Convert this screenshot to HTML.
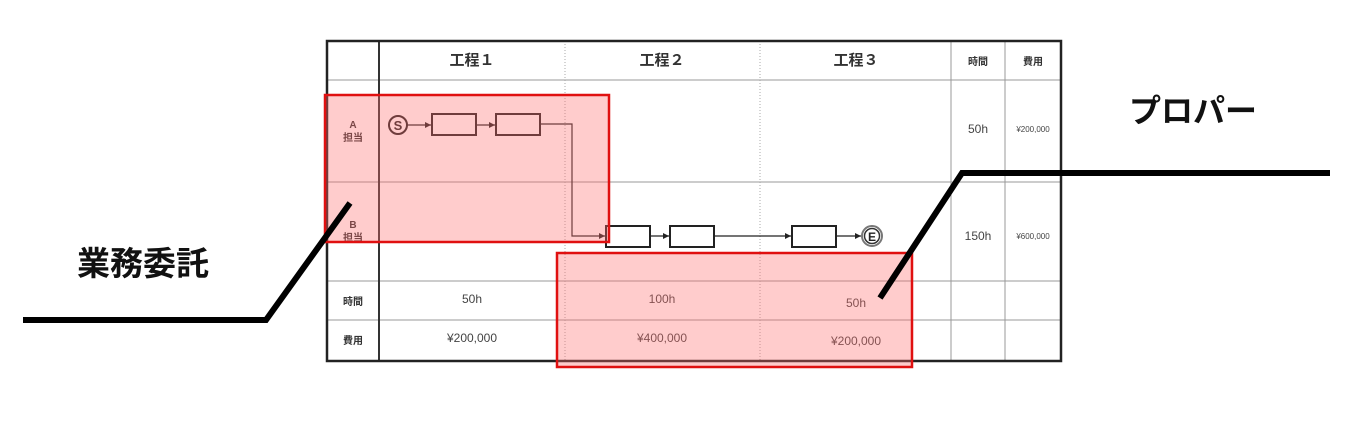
<!DOCTYPE html>
<html><head><meta charset="utf-8"><style>
html,body{margin:0;padding:0;background:#fff;}
svg{display:block;}
text{font-family:"Liberation Sans","Noto Sans CJK JP",sans-serif;}
</style></head><body>
<svg width="1352" height="426" viewBox="0 0 1352 426" xmlns="http://www.w3.org/2000/svg">
<defs><marker id="a" markerWidth="6" markerHeight="6" refX="5" refY="3" orient="auto"><path d="M0,0.5 L5,3 L0,5.5z" fill="#222"/></marker></defs>
<g stroke="#999" stroke-width="1">
<line x1="327" y1="80" x2="1061" y2="80"/>
<line x1="327" y1="182" x2="1061" y2="182"/>
<line x1="327" y1="281" x2="1061" y2="281"/>
<line x1="327" y1="320" x2="1061" y2="320"/>
<line x1="951" y1="41" x2="951" y2="361"/>
<line x1="1005" y1="41" x2="1005" y2="361"/>
</g>
<g stroke="#aaa" stroke-width="1" stroke-dasharray="1,2">
<line x1="565" y1="41" x2="565" y2="361"/>
<line x1="760" y1="41" x2="760" y2="361"/>
</g>
<line x1="379" y1="41" x2="379" y2="361" stroke="#333" stroke-width="2"/>
<rect x="327" y="41" width="734" height="320" fill="none" stroke="#222" stroke-width="2.5"/>
<g font-weight="bold" font-size="15" fill="#333" text-anchor="middle">
<text x="472" y="65">工程１</text>
<text x="662" y="65">工程２</text>
<text x="856" y="65">工程３</text>
<text x="978" y="65" font-size="10">時間</text>
<text x="1033" y="65" font-size="10">費用</text>
<text x="353" y="128" font-size="10">A</text>
<text x="353" y="141" font-size="10">担当</text>
<text x="353" y="228" font-size="10">B</text>
<text x="353" y="241" font-size="10">担当</text>
<text x="353" y="305" font-size="10">時間</text>
<text x="353" y="344" font-size="10">費用</text>
</g>
<g font-size="12" fill="#444" text-anchor="middle">
<text x="472" y="303">50h</text>
<text x="662" y="303">100h</text>
<text x="856" y="307">50h</text>
<text x="472" y="342">¥200,000</text>
<text x="662" y="342">¥400,000</text>
<text x="856" y="345">¥200,000</text>
<text x="978" y="133">50h</text>
<text x="978" y="240">150h</text>
<text x="1033" y="132" font-size="8">¥200,000</text>
<text x="1033" y="239" font-size="8">¥600,000</text>
</g>
<g stroke="#222" stroke-width="1.2" fill="none">
<line x1="407" y1="125" x2="431" y2="125" marker-end="url(#a)"/>
<line x1="476" y1="125" x2="495" y2="125" marker-end="url(#a)"/>
<polyline points="540,124 572,124 572,236 605,236" marker-end="url(#a)"/>
<line x1="650" y1="236" x2="669" y2="236" marker-end="url(#a)"/>
<line x1="714" y1="236" x2="791" y2="236" marker-end="url(#a)"/>
<line x1="836" y1="236" x2="861" y2="236" marker-end="url(#a)"/>
</g>
<g stroke="#222" stroke-width="2" fill="#fff">
<rect x="432" y="114" width="44" height="21"/>
<rect x="496" y="114" width="44" height="21"/>
<rect x="606" y="226" width="44" height="21"/>
<rect x="670" y="226" width="44" height="21"/>
<rect x="792" y="226" width="44" height="21"/>
<circle cx="398" cy="125" r="9"/>
</g>
<circle cx="872" cy="236" r="10" fill="#fff" stroke="#777" stroke-width="2"/>
<circle cx="872" cy="236" r="7.5" fill="none" stroke="#333" stroke-width="1.5"/>
<text x="398" y="130" font-size="13" font-weight="bold" text-anchor="middle" fill="#222">S</text>
<text x="872" y="241" font-size="12" font-weight="bold" text-anchor="middle" fill="#222">E</text>
<rect x="325" y="95" width="284" height="147" fill="rgba(255,110,110,0.35)" stroke="#e01010" stroke-width="2.5"/>
<rect x="557" y="253" width="355" height="114" fill="rgba(255,110,110,0.35)" stroke="#e01010" stroke-width="2.5"/>
<polyline points="23,320 266,320 350,203" fill="none" stroke="#000" stroke-width="6"/>
<polyline points="1330,173 962,173 880,298" fill="none" stroke="#000" stroke-width="6"/>
<text x="77" y="275" font-size="33" font-weight="bold" fill="#111">業務委託</text>
<text x="1129" y="122" font-size="32" font-weight="bold" fill="#111">プロパー</text>
</svg>
</body></html>
